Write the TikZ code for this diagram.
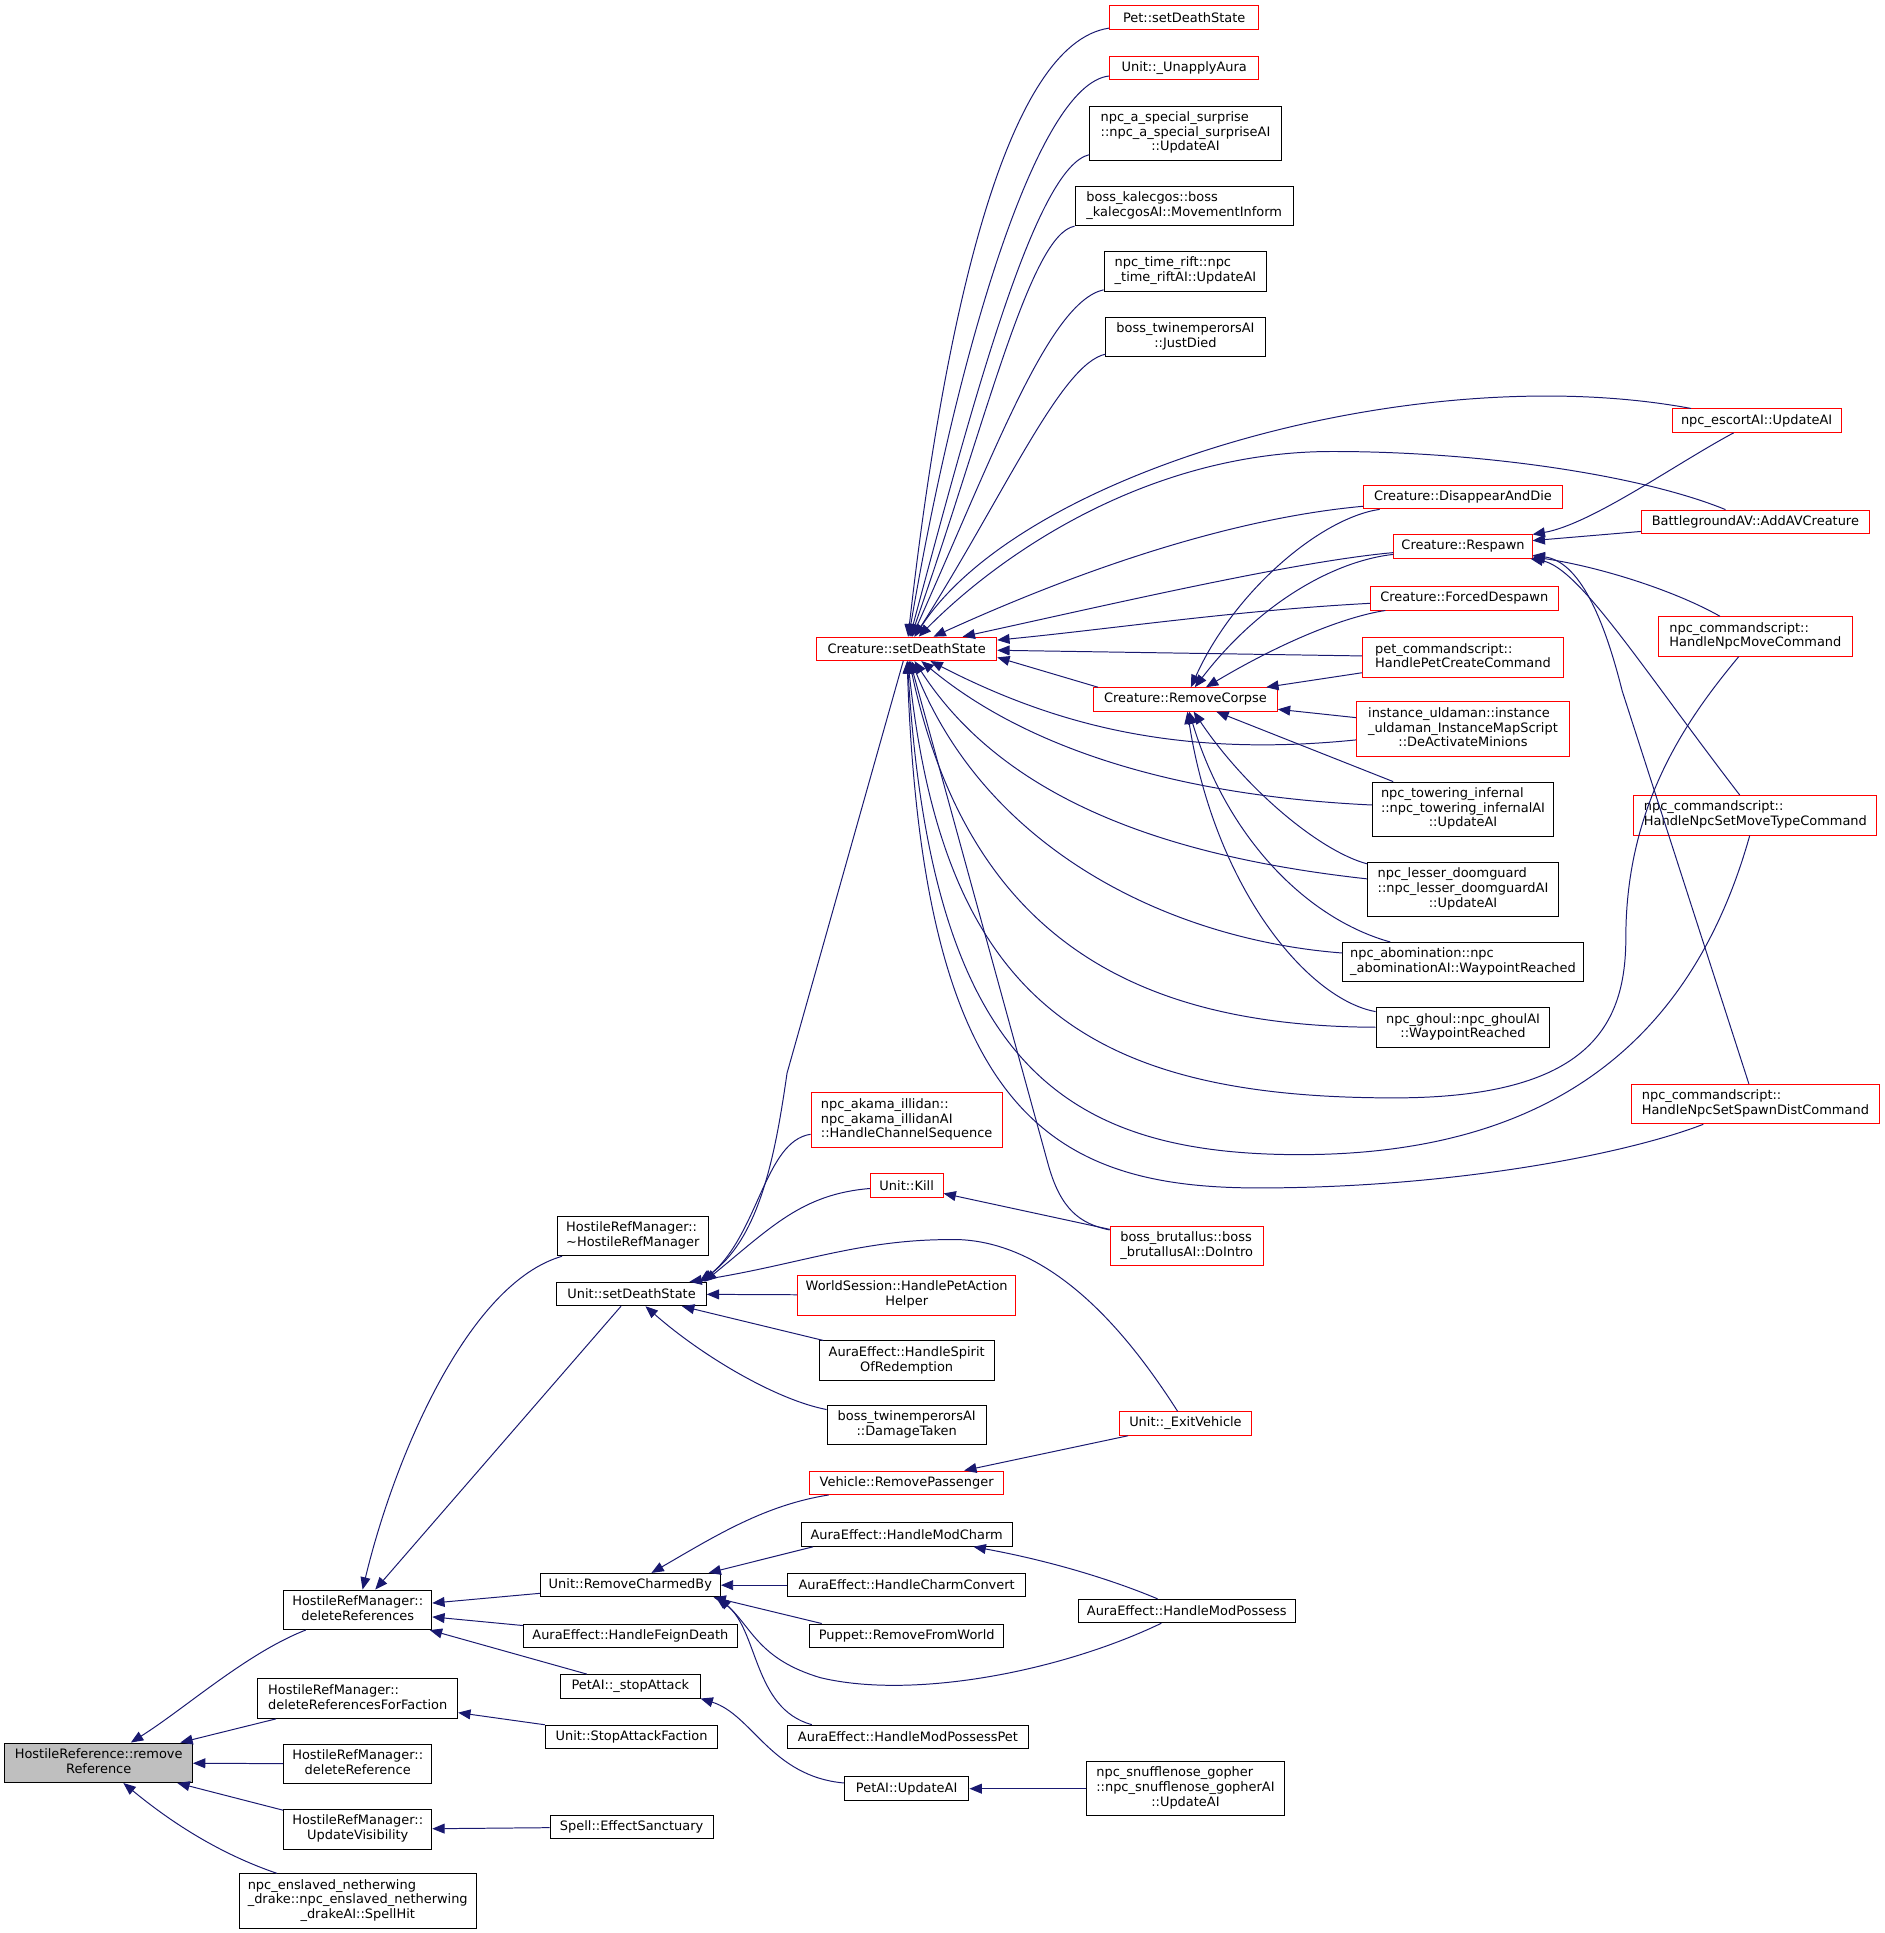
\documentclass[tikz,border=0pt]{standalone}
\usepackage{fontspec}
\setmainfont{DejaVu Sans}
\usetikzlibrary{arrows.meta}
\definecolor{edgeblue}{HTML}{191970}
\definecolor{hlred}{HTML}{FF0000}
\definecolor{curgray}{HTML}{BFBFBF}
\newcommand{\fnl}[2]{\begin{tabular}{@{}l@{}}#1\\\multicolumn{1}{@{}c@{}}{#2}\end{tabular}}

\begin{document}
\begin{tikzpicture}[x=1pt,y=-1pt,
  fn/.style={draw=black, line width=0.8pt, rectangle, inner xsep=2pt, inner ysep=4pt,
    minimum height=19pt, font=\fontsize{10.5}{12}\selectfont},
  hl/.style={fn, draw=hlred},
  cur/.style={fn, fill=curgray},
  calls/.style={arrows={Triangle[length=10pt,width=8pt]-}, draw=edgeblue, line width=0.8pt}]
\path[use as bounding box, fill=white] (0,0) rectangle (1528,1567);

% callers of HostileReference::removeReference
\node[cur, minimum width=152] (rr) at (80,1429) {\fnl{HostileReference::remove}{Reference}};
\node[fn, minimum width=120] (dr) at (290,1305) {\fnl{HostileRefManager::}{deleteReferences}};
\node[fn, minimum width=162] (drf) at (290,1377) {\fnl{HostileRefManager::}{deleteReferencesForFaction}};
\node[fn, minimum width=120] (dref) at (290,1430) {\fnl{HostileRefManager::}{deleteReference}};
\node[fn, minimum width=120] (uv) at (290,1483) {\fnl{HostileRefManager::}{UpdateVisibility}};
\node[fn, minimum width=192] (sh) at (290,1541) {\fnl{npc\_enslaved\_netherwing\\\_drake::npc\_enslaved\_netherwing}{\_drakeAI::SpellHit}};

\node[fn, minimum width=122] (hrm) at (513,1002) {\fnl{HostileRefManager::}{\textasciitilde HostileRefManager}};
\node[fn, minimum width=121] (usds) at (512,1049) {Unit::setDeathState};
\node[fn, minimum width=146] (ucb) at (511,1285) {Unit::RemoveCharmedBy};
\node[fn, minimum width=173] (feign) at (511,1326) {AuraEffect::HandleFeignDeath};
\node[fn, minimum width=113] (sa) at (511,1367) {PetAI::\_stopAttack};
\node[fn, minimum width=140] (saf) at (512,1408) {Unit::StopAttackFaction};
\node[fn, minimum width=132] (es) at (512,1481) {Spell::EffectSanctuary};

\node[hl, minimum width=146] (crsd) at (735,526) {Creature::setDeathState};
\node[hl, minimum width=155] (akama) at (735,908) {\fnl{npc\_akama\_illidan::\\npc\_akama\_illidanAI}{::HandleChannelSequence}};
\node[hl, minimum width=59] (kill) at (735,961) {Unit::Kill};
\node[hl, minimum width=177] (ws) at (735,1050) {\fnl{WorldSession::HandlePetAction}{Helper}};
\node[fn, minimum width=142] (sor) at (735,1103) {\fnl{AuraEffect::HandleSpirit}{OfRedemption}};
\node[fn, minimum width=129] (dt) at (735,1155) {\fnl{boss\_twinemperorsAI}{::DamageTaken}};
\node[hl, minimum width=157] (rp) at (735,1202) {Vehicle::RemovePassenger};
\node[fn, minimum width=171] (hmc) at (735,1244) {AuraEffect::HandleModCharm};
\node[fn, minimum width=193] (hcc) at (735,1285) {AuraEffect::HandleCharmConvert};
\node[fn, minimum width=157] (puppet) at (735,1326) {Puppet::RemoveFromWorld};
\node[fn, minimum width=195] (hmpp) at (736,1408) {AuraEffect::HandleModPossessPet};
\node[fn, minimum width=101] (paui) at (735,1450) {PetAI::UpdateAI};

\node[hl, minimum width=121] (psds) at (960,14) {Pet::setDeathState};
\node[hl, minimum width=121] (ua) at (960,55) {Unit::\_UnapplyAura};
\node[fn, minimum width=155] (nass) at (961,108) {\fnl{npc\_a\_special\_surprise\\::npc\_a\_special\_surpriseAI}{::UpdateAI}};
\node[fn, minimum width=177] (bk) at (960,167) {\fnl{boss\_kalecgos::boss}{\_kalecgosAI::MovementInform}};
\node[fn, minimum width=132] (ntr) at (961,220) {\fnl{npc\_time\_rift::npc}{\_time\_riftAI::UpdateAI}};
\node[fn, minimum width=129] (jd) at (961,273) {\fnl{boss\_twinemperorsAI}{::JustDied}};
\node[hl, minimum width=149] (rc) at (961,567) {Creature::RemoveCorpse};
\node[hl, minimum width=124] (bb) at (962,1010) {\fnl{boss\_brutallus::boss}{\_brutallusAI::DoIntro}};
\node[hl, minimum width=107] (ev) at (961,1154) {Unit::\_ExitVehicle};
\node[fn, minimum width=176] (hmp) at (962,1306) {AuraEffect::HandleModPossess};
\node[fn, minimum width=161] (sng) at (961,1450) {\fnl{npc\_snufflenose\_gopher\\::npc\_snufflenose\_gopherAI}{::UpdateAI}};

\node[hl, minimum width=161] (dad) at (1186,403) {Creature::DisappearAndDie};
\node[hl, minimum width=112] (resp) at (1186,443) {Creature::Respawn};
\node[hl, minimum width=152] (fd) at (1187,485) {Creature::ForcedDespawn};
\node[hl, minimum width=163] (pcs) at (1186,533) {\fnl{pet\_commandscript::}{HandlePetCreateCommand}};
\node[hl, minimum width=173] (iu) at (1186,591) {\fnl{instance\_uldaman::instance\\\_uldaman\_InstanceMapScript}{::DeActivateMinions}};
\node[fn, minimum width=147] (nti) at (1186,656) {\fnl{npc\_towering\_infernal\\::npc\_towering\_infernalAI}{::UpdateAI}};
\node[fn, minimum width=155] (nld) at (1186,721) {\fnl{npc\_lesser\_doomguard\\::npc\_lesser\_doomguardAI}{::UpdateAI}};
\node[fn, minimum width=195] (na) at (1186,780) {\fnl{npc\_abomination::npc}{\_abominationAI::WaypointReached}};
\node[fn, minimum width=141] (ng) at (1186,833) {\fnl{npc\_ghoul::npc\_ghoulAI}{::WaypointReached}};

\node[hl, minimum width=137] (eai) at (1424,341) {npc\_escortAI::UpdateAI};
\node[hl, minimum width=185] (bgav) at (1423,423) {BattlegroundAV::AddAVCreature};
\node[hl, minimum width=157] (nmc) at (1423,516) {\fnl{npc\_commandscript::}{HandleNpcMoveCommand}};
\node[hl, minimum width=197] (smt) at (1423,661) {\fnl{npc\_commandscript::}{HandleNpcSetMoveTypeCommand}};
\node[hl, minimum width=201] (ssd) at (1423,895) {\fnl{npc\_commandscript::}{HandleNpcSetSpawnDistCommand}};

% edges
\draw[calls] (rr) .. controls (150,1385) and (200,1340) .. (dr);
\draw[calls] (rr) -- (drf);
\draw[calls] (rr) -- (dref);
\draw[calls] (rr) -- (uv);
\draw[calls] (rr) .. controls (130,1470) and (170,1500) .. (sh);
\draw[calls] (dr) .. controls (320,1180) and (380,1040) .. (hrm);
\draw[calls] (dr) -- (usds);
\draw[calls] (dr) -- (ucb);
\draw[calls] (dr) -- (feign);
\draw[calls] (dr) -- (sa);
\draw[calls] (drf) -- (saf);
\draw[calls] (uv) -- (es);

\draw[calls] ([xshift=-6pt]usds.north east) .. controls (615,1005) and (628,940) .. (638,870) -- (crsd);
\draw[calls] ([xshift=-4pt]usds.north east) .. controls (615,1000) and (620,925) .. (akama);
\draw[calls] ([xshift=-2pt]usds.north east) .. controls (625,995) and (650,968) .. (kill);
\draw[calls] ([xshift=-14pt]usds.north east) .. controls (650,1025) and (700,1003) .. (780,1005)
  .. controls (860,1010) and (920,1090) .. (ev);
\draw[calls] (usds) -- (ws);
\draw[calls] (usds) -- (sor);
\draw[calls] (usds) .. controls (570,1100) and (630,1135) .. (dt);

\draw[calls] (ucb) .. controls (580,1245) and (620,1220) .. (rp);
\draw[calls] ([xshift=-10pt]ucb.north east) -- ([xshift=10pt]hmc.south west);
\draw[calls] (ucb) -- (hcc);
\draw[calls] ([xshift=-6pt]ucb.south east) -- ([xshift=10pt]puppet.north west);
\draw[calls] ([xshift=-2pt]ucb.south east) .. controls (610,1320) and (615,1345) .. (665,1360)
  .. controls (740,1378) and (860,1355) .. (hmp);
\draw[calls] ([xshift=-4pt]ucb.south east) .. controls (615,1320) and (610,1385) .. ([xshift=20pt]hmpp.north west);
\draw[calls] (sa.south east) .. controls (610,1390) and (625,1440) .. (paui);
\draw[calls] (paui) -- (sng);
\draw[calls] (rp) -- (ev);
\draw[calls] (hmc) .. controls (850,1265) and (900,1280) .. (hmp);
\draw[calls] (kill) -- (bb);

\draw[calls] (crsd) .. controls (765,260) and (815,35) .. (psds);
\draw[calls] (crsd) .. controls (775,290) and (840,68) .. (ua);
\draw[calls] (crsd) .. controls (790,320) and (840,135) .. (nass);
\draw[calls] (crsd) .. controls (800,340) and (835,190) .. (bk);
\draw[calls] (crsd) .. controls (805,370) and (850,245) .. (ntr);
\draw[calls] (crsd) .. controls (815,400) and (860,295) .. (jd);
\draw[calls] (crsd) .. controls (830,380) and (1150,290) .. (eai);
\draw[calls] (crsd) .. controls (810,450) and (930,366) .. (1080,366)
  .. controls (1200,366) and (1330,385) .. (bgav);
\draw[calls] (crsd) .. controls (880,460) and (1000,420) .. (dad);
\draw[calls] (crsd) .. controls (900,490) and (1050,455) .. (resp);
\draw[calls] (crsd) .. controls (900,510) and (1000,495) .. (fd);
\draw[calls] (crsd) -- (pcs);
\draw[calls] ([yshift=3pt]crsd.south east) -- ([xshift=4pt]rc.north west);
\draw[calls] (crsd) .. controls (850,585) and (950,615) .. (iu);
\draw[calls] (crsd) .. controls (830,605) and (950,645) .. (nti);
\draw[calls] (crsd) .. controls (815,650) and (950,695) .. (nld);
\draw[calls] (crsd) .. controls (800,690) and (950,762) .. (na);
\draw[calls] (crsd) .. controls (785,760) and (920,832) .. (ng);
\draw[calls] (crsd) .. controls (765,810) and (880,890) .. (1130,890)
  .. controls (1290,890) and (1318,830) .. (1318,760) .. controls (1318,650) and (1370,580) .. (nmc);
\draw[calls] (crsd) .. controls (755,860) and (860,935) .. (1050,936)
  .. controls (1250,937) and (1370,850) .. (smt);
\draw[calls] (crsd) .. controls (748,900) and (850,963) .. (1020,963)
  .. controls (1180,963) and (1320,935) .. (ssd);
\draw[calls] (crsd) -- (850,945) .. controls (860,980) and (875,992) .. (bb);

\draw[calls] (rc) .. controls (1000,480) and (1070,420) .. (dad);
\draw[calls] (rc) .. controls (1020,490) and (1080,455) .. (resp);
\draw[calls] (rc) .. controls (1040,520) and (1090,500) .. (fd);
\draw[calls] (rc) -- (pcs);
\draw[calls] (rc) -- (iu);
\draw[calls] (rc) -- (nti);
\draw[calls] (rc) .. controls (1010,640) and (1070,690) .. (nld);
\draw[calls] (rc) .. controls (995,680) and (1060,745) .. (na);
\draw[calls] (rc) .. controls (985,720) and (1060,810) .. (ng);

\draw[calls] (resp) .. controls (1290,425) and (1360,375) .. (eai);
\draw[calls] (resp) -- (bgav);
\draw[calls] (resp) .. controls (1300,460) and (1360,480) .. (nmc);
\draw[calls] (resp) .. controls (1280,460) and (1330,540) .. (smt);
\draw[calls] (resp) .. controls (1280,455) and (1300,500) .. (1315,560) -- (ssd);
\end{tikzpicture}
\end{document}
